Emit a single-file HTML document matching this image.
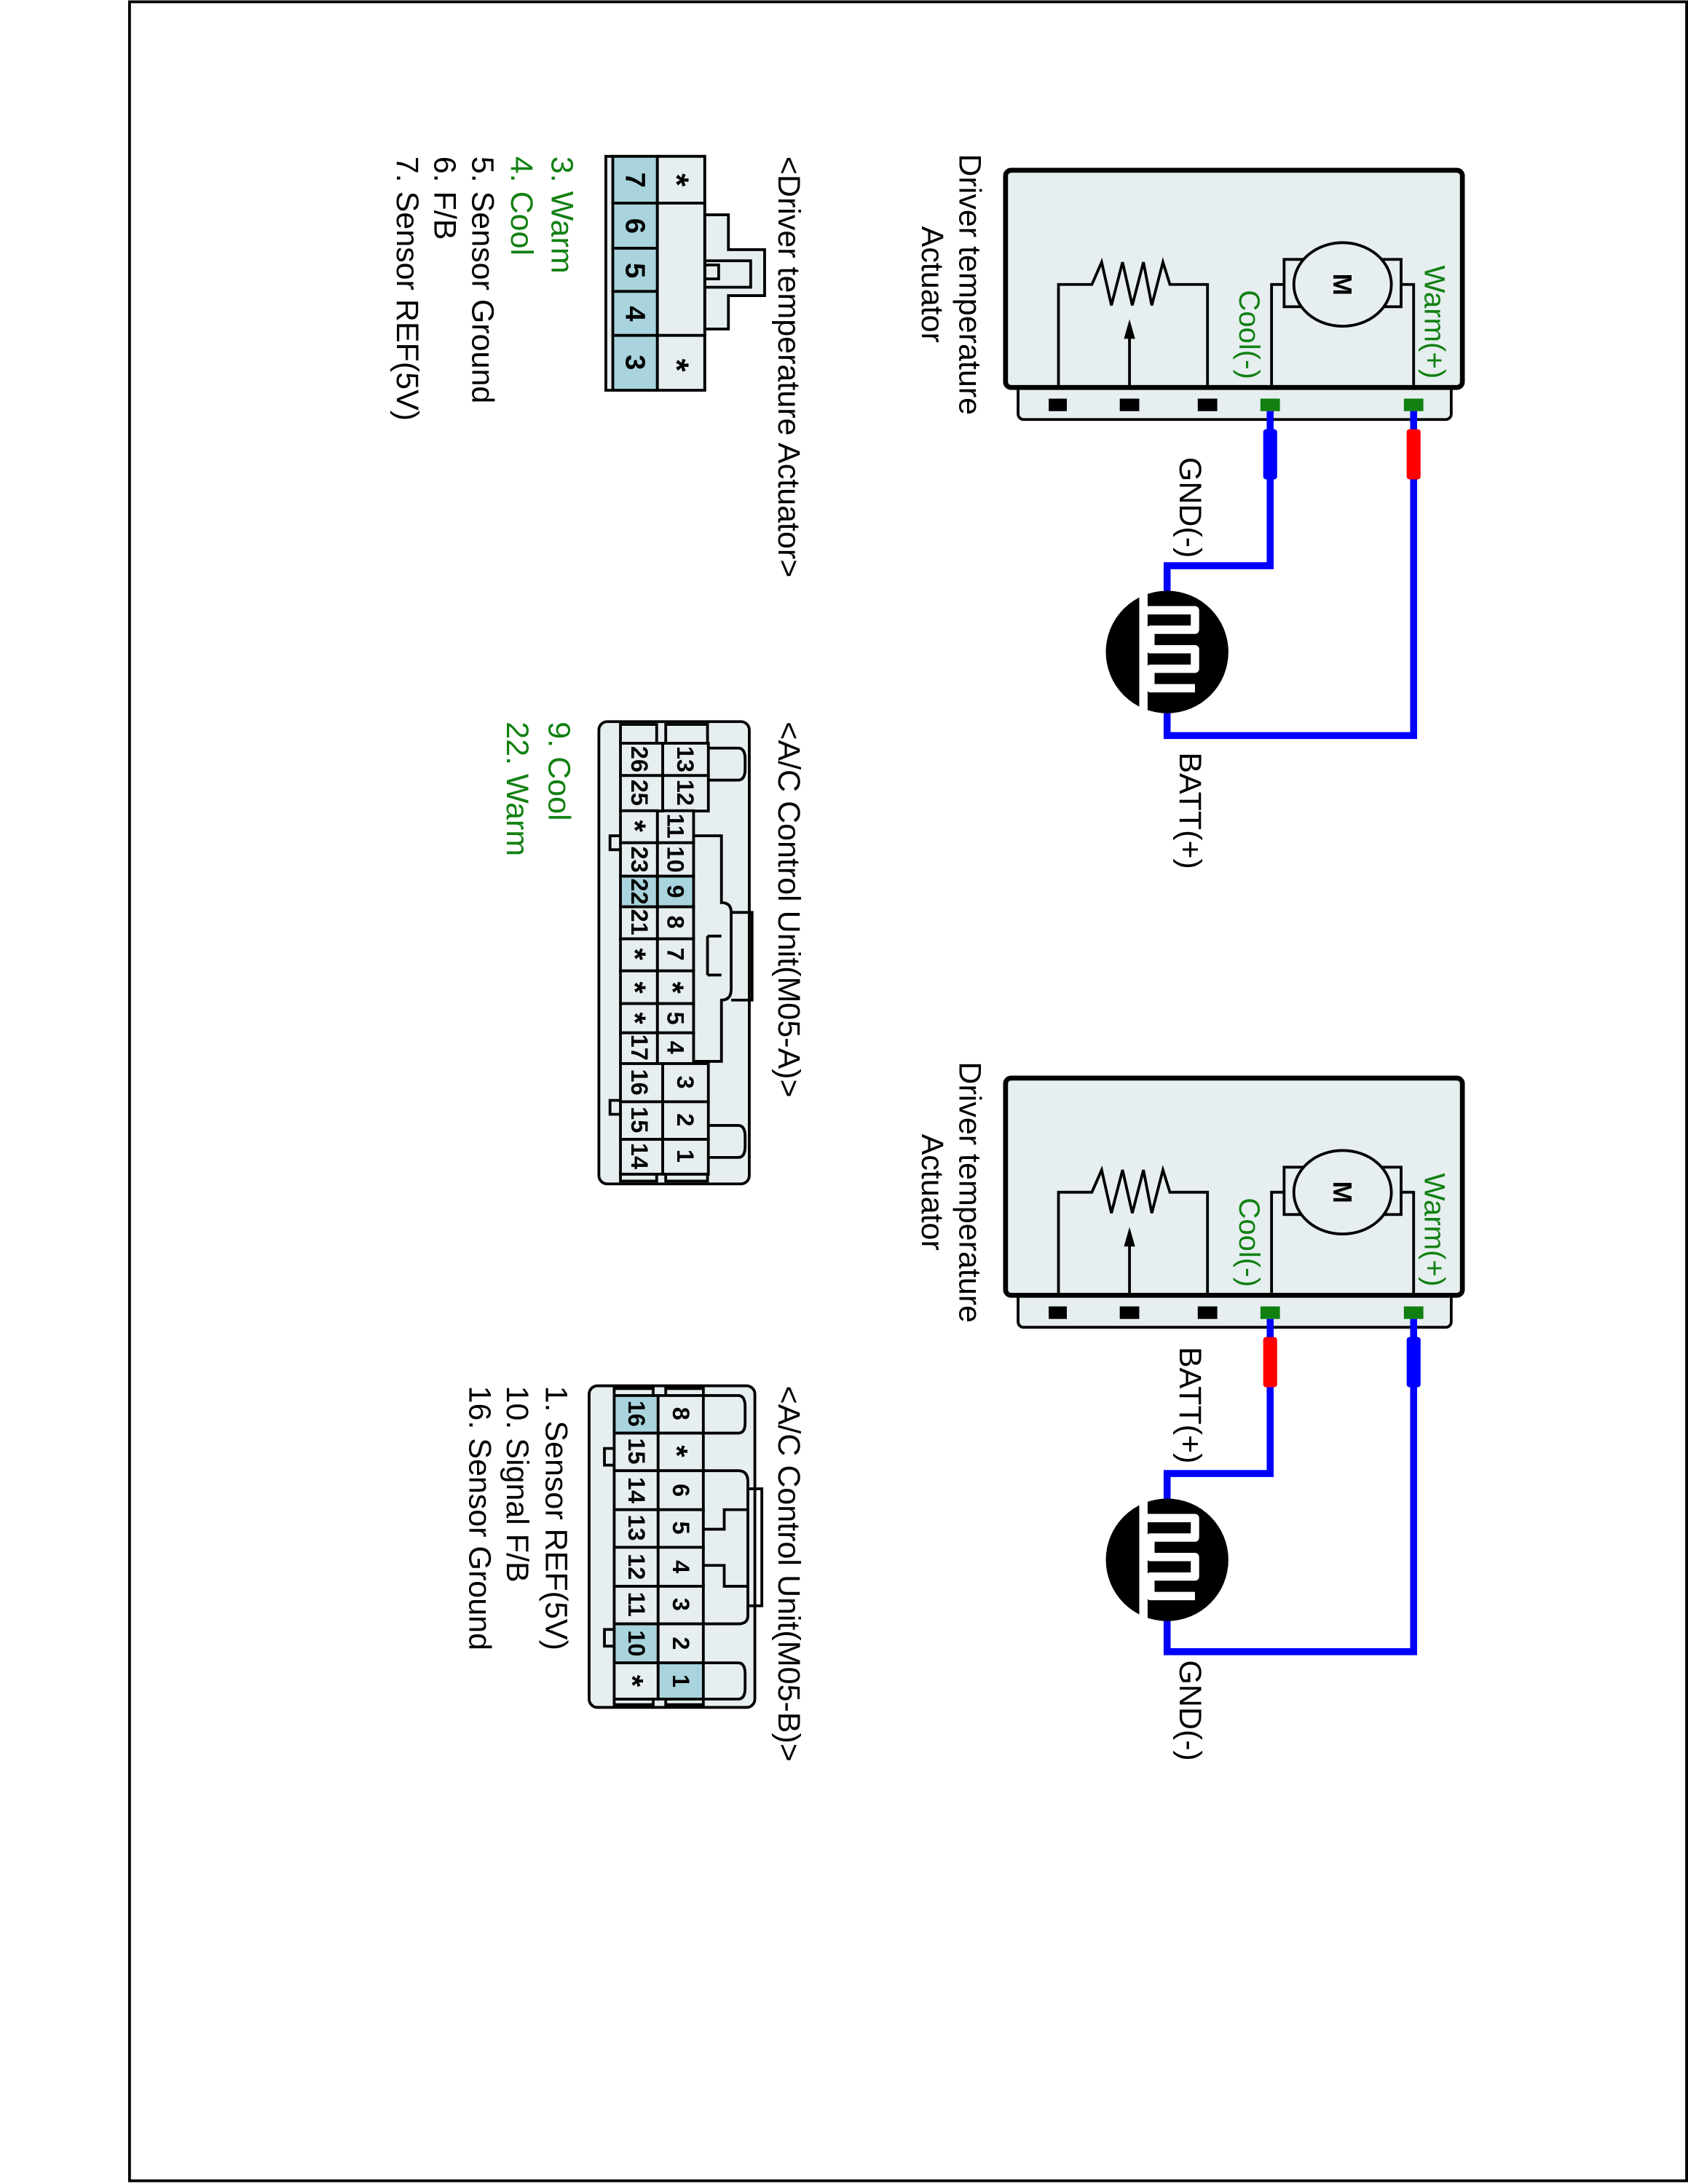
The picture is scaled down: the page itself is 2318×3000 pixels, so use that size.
<!DOCTYPE html>
<html><head><meta charset="utf-8"><style>html,body{margin:0;padding:0;background:#fff}svg{display:block}</style></head>
<body>
<svg width="2318" height="3000" viewBox="0 0 1212 1568" xmlns="http://www.w3.org/2000/svg" font-family="Liberation Sans, sans-serif">
<rect x="93" y="1" width="1118" height="1565" fill="none" stroke="#000" stroke-width="2"/>

<defs>
<g id="act">
  <rect x="731" y="276" width="311" height="25" rx="4" fill="#e6eef0" stroke="#000" stroke-width="2"/>
  <rect x="722" y="122" width="328" height="156" rx="4" fill="#e6eef0" stroke="#000" stroke-width="3.5"/>
  <rect x="753" y="286" width="13" height="9" fill="#000"/>
  <rect x="804" y="286" width="14" height="9" fill="#000"/>
  <rect x="860" y="286" width="14" height="9" fill="#000"/>
  <rect x="905" y="286" width="14" height="9" fill="#118011"/>
  <rect x="1008" y="286" width="14" height="9" fill="#118011"/>
  <g fill="none" stroke="#000" stroke-width="2">
    <polyline points="913,278 913,204 922,204"/>
    <polyline points="1015,278 1015,204 1006,204"/>
    <rect x="922" y="186" width="84" height="34"/>
    <polyline points="760,278 760,204 784,204 791,188 798,219 806,188 813,219 821,188 827,219 835,188 840,204 867,204 867,278"/>
    <line x1="811" y1="278" x2="811" y2="240"/>
  </g>
  <ellipse cx="964" cy="204" rx="35" ry="30" fill="#e6eef0" stroke="#000" stroke-width="2"/>
  <text x="964" y="204" text-anchor="middle" dominant-baseline="central" font-size="19" font-weight="bold" transform="rotate(90 964 204)">M</text>
  <polygon points="811,229 807,243 815,243" fill="#000"/>
  <text x="890" y="240" text-anchor="middle" font-size="21" fill="#118011" transform="rotate(90 890 240)">Cool(-)</text>
  <text x="1023" y="231" text-anchor="middle" font-size="21" fill="#118011" transform="rotate(90 1023 231)">Warm(+)</text>
  <text x="689" y="204" text-anchor="middle" font-size="22.5" transform="rotate(90 689 204)">Driver temperature</text>
  <text x="662" y="204" text-anchor="middle" font-size="22.5" transform="rotate(90 662 204)">Actuator</text>
</g>
<g id="sensor">
  <circle r="44" fill="#000"/>
  <path d="M -17,-44 V -30 H 20 V -16 H -12 V -2 H 20 V 12 H -12 V 26 H 20 M -17,-30 V 44" fill="none" stroke="#fff" stroke-width="6" stroke-linejoin="round"/>
</g>
</defs>

<!-- actuator 1 -->
<use href="#act"/>
<g fill="none" stroke="#0000ff" stroke-width="5">
  <polyline points="912,295 912,406 838,406 838,430"/>
  <polyline points="838,508 838,528 1015,528 1015,295"/>
</g>
<rect x="907" y="308" width="10" height="36" rx="2" fill="#0000ff"/>
<rect x="1010" y="308" width="10" height="36" rx="2" fill="#ff0000"/>
<use href="#sensor" x="838" y="468"/>
<text x="847" y="328" font-size="22.5" transform="rotate(90 847 328)">GND(-)</text>
<text x="847" y="540" font-size="22.5" transform="rotate(90 847 540)">BATT(+)</text>

<!-- actuator 2 -->
<use href="#act" y="652"/>
<g fill="none" stroke="#0000ff" stroke-width="5">
  <polyline points="912,947 912,1058 838,1058 838,1082"/>
  <polyline points="838,1160 838,1186 1015,1186 1015,947"/>
</g>
<rect x="907" y="960" width="10" height="36" rx="2" fill="#ff0000"/>
<rect x="1010" y="960" width="10" height="36" rx="2" fill="#0000ff"/>
<use href="#sensor" x="838" y="1120"/>
<text x="847" y="967" font-size="22.5" transform="rotate(90 847 967)">BATT(+)</text>
<text x="847" y="1192" font-size="22.5" transform="rotate(90 847 1192)">GND(-)</text>

<!-- driver temp actuator connector -->
<text x="559" y="112" font-size="22.5" transform="rotate(90 559 112)">&lt;Driver temperature Actuator&gt;</text>
<g stroke="#000" stroke-width="2">
  <polygon points="506,154 523,154 523,179 549,179 549,212 523,212 523,236 506,236" fill="#e6eef0"/>
  <rect x="506" y="187" width="33" height="19" fill="none"/>
  <rect x="506" y="190" width="10" height="10" fill="none"/>
  <rect x="435" y="112" width="71" height="168" fill="#e6eef0"/>
  <rect x="440" y="112" width="32" height="33.6" fill="#a9d4dd"/>
  <rect x="440" y="145.6" width="32" height="32.4" fill="#a9d4dd"/>
  <rect x="440" y="178" width="32" height="31" fill="#a9d4dd"/>
  <rect x="440" y="209" width="32" height="31.6" fill="#a9d4dd"/>
  <rect x="440" y="240.6" width="32" height="39.4" fill="#a9d4dd"/>
  <rect x="472" y="112" width="34" height="33.6" fill="#e6eef0"/>
  <rect x="472" y="145.6" width="34" height="95" fill="#e6eef0"/>
  <rect x="472" y="240.6" width="34" height="39.4" fill="#e6eef0"/>
</g>
<g font-size="20" font-weight="bold" text-anchor="middle" dominant-baseline="central">
  <text x="456" y="129" transform="rotate(90 456 129)">7</text>
  <text x="456" y="162" transform="rotate(90 456 162)">6</text>
  <text x="456" y="194" transform="rotate(90 456 194)">5</text>
  <text x="456" y="225" transform="rotate(90 456 225)">4</text>
  <text x="456" y="260" transform="rotate(90 456 260)">3</text>
  <text x="486" y="129" font-size="24" transform="rotate(90 486 129)">*</text>
  <text x="486" y="262" font-size="24" transform="rotate(90 486 262)">*</text>
</g>
<g font-size="22.5">
  <text x="396" y="112" fill="#118011" transform="rotate(90 396 112)">3. Warm</text>
  <text x="367" y="112" fill="#118011" transform="rotate(90 367 112)">4. Cool</text>
  <text x="339" y="112" transform="rotate(90 339 112)">5. Sensor Ground</text>
  <text x="312" y="112" transform="rotate(90 312 112)">6. F/B</text>
  <text x="285" y="112" transform="rotate(90 285 112)">7. Sensor REF(5V)</text>
</g>

<!-- M05-A -->
<text x="559" y="518" font-size="22.5" transform="rotate(90 559 518)">&lt;A/C Control Unit(M05-A)&gt;</text>
<g stroke="#000" stroke-width="2" fill="#e6eef0">
  <rect x="430" y="518" width="108" height="332" rx="6"/>
  <path d="M508,537 H530 Q535,537 535,545 V552 Q535,560 530,560 H508" fill="none"/>
  <path d="M508,808 H530 Q535,808 535,816 V823 Q535,831 530,831 H508" fill="none"/>
  <path d="M498,600 H518 V648 Q525,648 525,655 V710 Q525,718 518,718 V762 H498" fill="none"/>
  <path d="M525,655 H540 V718 H525" fill="none"/>
  <path d="M508,672 H518 M508,700 H518 M508,672 V700" fill="none"/>
  <path d="M445.5,600 H438 V610 H445.5 M445.5,790 H438 V800 H445.5" fill="none"/>
  <rect x="445.5" y="520" width="26" height="13.5"/>
  <rect x="478" y="520" width="30" height="13.5"/>
  <rect x="445.5" y="843" width="26" height="5"/>
  <rect x="478" y="843" width="30" height="5"/>
</g>
<g stroke="#000" stroke-width="2" fill="#e6eef0">
  <rect x="475.8" y="533.5" width="32.8" height="23.2"/>
  <rect x="475.8" y="556.7" width="32.8" height="25.5"/>
  <rect x="472" y="582" width="26" height="23"/>
  <rect x="472" y="605" width="26" height="24"/>
  <rect x="472" y="629" width="26" height="22" fill="#a9d4dd"/>
  <rect x="472" y="651" width="26" height="23"/>
  <rect x="472" y="674" width="26" height="23"/>
  <rect x="472" y="697" width="26" height="23.5"/>
  <rect x="472" y="720.5" width="26" height="21"/>
  <rect x="472" y="741.5" width="26" height="22.1"/>
  <rect x="475.8" y="763.6" width="32.8" height="27.4"/>
  <rect x="475.8" y="791" width="32.8" height="27"/>
  <rect x="475.8" y="818" width="32.8" height="25"/>
  <rect x="445.5" y="533.5" width="30.3" height="23.2"/>
  <rect x="445.5" y="556.7" width="30.3" height="25.5"/>
  <rect x="445.5" y="582" width="26.5" height="23"/>
  <rect x="445.5" y="605" width="26.5" height="24"/>
  <rect x="445.5" y="629" width="26.5" height="22" fill="#a9d4dd"/>
  <rect x="445.5" y="651" width="26.5" height="23"/>
  <rect x="445.5" y="674" width="26.5" height="23"/>
  <rect x="445.5" y="697" width="26.5" height="23.5"/>
  <rect x="445.5" y="720.5" width="26.5" height="21"/>
  <rect x="445.5" y="741.5" width="26.5" height="22.1"/>
  <rect x="445.5" y="763.6" width="30.3" height="27.4"/>
  <rect x="445.5" y="791" width="30.3" height="27"/>
  <rect x="445.5" y="818" width="30.3" height="25"/>
</g>
<g font-size="17" font-weight="bold" text-anchor="middle" dominant-baseline="central">
  <text x="492" y="545" transform="rotate(90 492 545)">13</text>
  <text x="492" y="569" transform="rotate(90 492 569)">12</text>
  <text x="485" y="593" transform="rotate(90 485 593)">11</text>
  <text x="485" y="617" transform="rotate(90 485 617)">10</text>
  <text x="485" y="640" transform="rotate(90 485 640)">9</text>
  <text x="485" y="662" transform="rotate(90 485 662)">8</text>
  <text x="485" y="685" transform="rotate(90 485 685)">7</text>
  <text x="483" y="709" font-size="22" transform="rotate(90 483 709)">*</text>
  <text x="485" y="731" transform="rotate(90 485 731)">5</text>
  <text x="485" y="752" transform="rotate(90 485 752)">4</text>
  <text x="492" y="777" transform="rotate(90 492 777)">3</text>
  <text x="492" y="804" transform="rotate(90 492 804)">2</text>
  <text x="492" y="830" transform="rotate(90 492 830)">1</text>
  <text x="459" y="545" transform="rotate(90 459 545)">26</text>
  <text x="459" y="569" transform="rotate(90 459 569)">25</text>
  <text x="456" y="593" font-size="22" transform="rotate(90 456 593)">*</text>
  <text x="459" y="617" transform="rotate(90 459 617)">23</text>
  <text x="459" y="640" transform="rotate(90 459 640)">22</text>
  <text x="459" y="662" transform="rotate(90 459 662)">21</text>
  <text x="456" y="685" font-size="22" transform="rotate(90 456 685)">*</text>
  <text x="456" y="709" font-size="22" transform="rotate(90 456 709)">*</text>
  <text x="456" y="731" font-size="22" transform="rotate(90 456 731)">*</text>
  <text x="459" y="752" transform="rotate(90 459 752)">17</text>
  <text x="459" y="777" transform="rotate(90 459 777)">16</text>
  <text x="459" y="804" transform="rotate(90 459 804)">15</text>
  <text x="459" y="830" transform="rotate(90 459 830)">14</text>
</g>
<g font-size="22.5" fill="#118011">
  <text x="394" y="518" transform="rotate(90 394 518)">9. Cool</text>
  <text x="364" y="518" transform="rotate(90 364 518)">22. Warm</text>
</g>

<!-- M05-B -->
<text x="559" y="995" font-size="22.5" transform="rotate(90 559 995)">&lt;A/C Control Unit(M05-B)&gt;</text>
<g stroke="#000" stroke-width="2" fill="#e6eef0">
  <rect x="423" y="995" width="119" height="231" rx="6"/>
  <path d="M505,1002 H530 Q535,1002 535,1010 V1022 Q535,1029 530,1029 H505" fill="none"/>
  <path d="M505,1194 H530 Q535,1194 535,1202 V1212 Q535,1220 530,1220 H505" fill="none"/>
  <path d="M505,1056 H530 Q537,1056 537,1064 V1160 Q537,1166 530,1166 H505" fill="none"/>
  <path d="M537,1069 H547 V1153 H537" fill="none"/>
  <path d="M505,1098 H520 V1084 H537 M505,1124 H520 V1139 H537" fill="none"/>
  <path d="M441,1040 H434 V1052 H441 M441,1170 H434 V1182 H441" fill="none"/>
  <rect x="441" y="997" width="28" height="5"/>
  <rect x="478" y="997" width="27" height="5"/>
  <rect x="441" y="1220" width="28" height="4"/>
  <rect x="478" y="1220" width="27" height="4"/>
</g>
<g stroke="#000" stroke-width="2" fill="#e6eef0">
  <rect x="472.5" y="1002" width="32.5" height="27"/>
  <rect x="472.5" y="1029" width="32.5" height="27"/>
  <rect x="472.5" y="1056" width="32.5" height="28"/>
  <rect x="472.5" y="1084" width="32.5" height="27"/>
  <rect x="472.5" y="1111" width="32.5" height="28"/>
  <rect x="472.5" y="1139" width="32.5" height="27"/>
  <rect x="472.5" y="1166" width="32.5" height="28"/>
  <rect x="472.5" y="1194" width="32.5" height="26" fill="#a9d4dd"/>
  <rect x="441" y="1002" width="31.5" height="27" fill="#a9d4dd"/>
  <rect x="441" y="1029" width="31.5" height="27"/>
  <rect x="441" y="1056" width="31.5" height="28"/>
  <rect x="441" y="1084" width="31.5" height="27"/>
  <rect x="441" y="1111" width="31.5" height="28"/>
  <rect x="441" y="1139" width="31.5" height="27"/>
  <rect x="441" y="1166" width="31.5" height="28" fill="#a9d4dd"/>
  <rect x="441" y="1194" width="31.5" height="26"/>
</g>
<g font-size="17" font-weight="bold" text-anchor="middle" dominant-baseline="central">
  <text x="489" y="1015" transform="rotate(90 489 1015)">8</text>
  <text x="486" y="1042" font-size="22" transform="rotate(90 486 1042)">*</text>
  <text x="489" y="1070" transform="rotate(90 489 1070)">6</text>
  <text x="489" y="1097" transform="rotate(90 489 1097)">5</text>
  <text x="489" y="1125" transform="rotate(90 489 1125)">4</text>
  <text x="489" y="1152" transform="rotate(90 489 1152)">3</text>
  <text x="489" y="1180" transform="rotate(90 489 1180)">2</text>
  <text x="489" y="1207" transform="rotate(90 489 1207)">1</text>
  <text x="457" y="1015" transform="rotate(90 457 1015)">16</text>
  <text x="457" y="1042" transform="rotate(90 457 1042)">15</text>
  <text x="457" y="1070" transform="rotate(90 457 1070)">14</text>
  <text x="457" y="1097" transform="rotate(90 457 1097)">13</text>
  <text x="457" y="1125" transform="rotate(90 457 1125)">12</text>
  <text x="457" y="1152" transform="rotate(90 457 1152)">11</text>
  <text x="457" y="1180" transform="rotate(90 457 1180)">10</text>
  <text x="454" y="1207" font-size="22" transform="rotate(90 454 1207)">*</text>
</g>
<g font-size="22.5">
  <text x="392" y="995" transform="rotate(90 392 995)">1. Sensor REF(5V)</text>
  <text x="364" y="995" transform="rotate(90 364 995)">10. Signal F/B</text>
  <text x="337" y="995" transform="rotate(90 337 995)">16. Sensor Ground</text>
</g>
</svg>
</body></html>
